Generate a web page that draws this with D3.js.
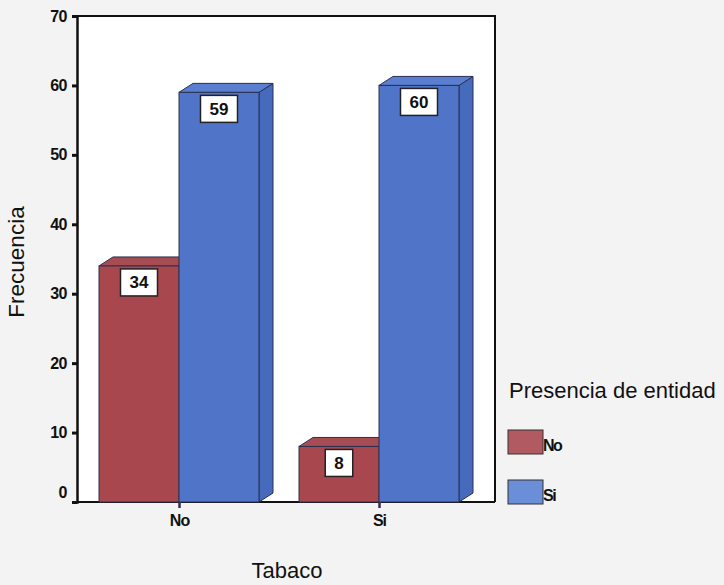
<!DOCTYPE html>
<html>
<head>
<meta charset="utf-8">
<script src="https://cdn.jsdelivr.net/npm/d3@7"></script>
<style>
  html, body { margin: 0; padding: 0; background: #f3f3f3; }
  svg { display: block; font-family: "Liberation Sans", Arial, sans-serif; }
</style>
</head>
<body>
<svg id="chart" width="724" height="585"></svg>
<script>
// Frecuencia por Tabaco y Presencia de entidad
const categories = ["No", "Si"];            // Tabaco
const series = ["No", "Si"];                // Presencia de entidad
const valuesNo = [34, 8];                   // Presencia = No
const valuesSi = [59, 60];                  // Presencia = Si
const yTicks = [0, 10, 20, 30, 40, 50, 60, 70];

const seriesValues = { "No": valuesNo, "Si": valuesSi };
const colors = {
  "No": { front: "#a9474f", top: "#a64d53", side: "#8f3b42", legend: "#b25a62" },
  "Si": { front: "#4f74c8", top: "#5a7fd0", side: "#466bbd", legend: "#6a8fd8" }
};

const svg = d3.select("#chart");
const plot = { left: 77, top: 16, right: 495, bottom: 502 };
const depth = { dx: 14, dy: 9 };

const y = d3.scaleLinear().domain([0, 70]).range([plot.bottom, plot.top]);
const x0 = d3.scaleBand().domain(categories)
  .range([plot.left, plot.right - depth.dx])
  .paddingInner(0.2).paddingOuter(0.11);
const x1 = d3.scaleBand().domain(series).range([0, x0.bandwidth()]);

// plot area
svg.append("rect")
  .attr("x", plot.left).attr("y", plot.top)
  .attr("width", plot.right - plot.left).attr("height", plot.bottom - plot.top)
  .attr("fill", "#ffffff");

// frame (top and right)
svg.append("path")
  .attr("d", `M${plot.left},${plot.top}H${plot.right}V${plot.bottom}`)
  .attr("fill", "none").attr("stroke", "#111").attr("stroke-width", 2);

// bottom axis line
svg.append("line")
  .attr("x1", plot.left).attr("x2", plot.right)
  .attr("y1", plot.bottom).attr("y2", plot.bottom)
  .attr("stroke", "#111").attr("stroke-width", 2);

// bars, one group per Tabaco category; "No" drawn first so the "Si" bar covers its side
const bars = [];
categories.forEach((c, i) => {
  series.forEach(s => {
    bars.push({ cat: c, ser: s, value: seriesValues[s][i] });
  });
});

const edge = "#2c3050";
const g = svg.append("g");
bars.forEach(d => {
  const xa = x0(d.cat) + x1(d.ser);
  const xb = xa + x1.bandwidth();
  const yt = y(d.value);
  const yb = y(0);
  const col = colors[d.ser];
  // side face
  g.append("path")
    .attr("d", `M${xb},${yt}L${xb + depth.dx},${yt - depth.dy}L${xb + depth.dx},${yb - depth.dy}L${xb},${yb}Z`)
    .attr("fill", col.side).attr("stroke", edge).attr("stroke-width", 1);
  // top face
  g.append("path")
    .attr("d", `M${xa},${yt}L${xa + depth.dx},${yt - depth.dy}L${xb + depth.dx},${yt - depth.dy}L${xb},${yt}Z`)
    .attr("fill", col.top).attr("stroke", edge).attr("stroke-width", 1);
  // front face
  g.append("rect")
    .attr("x", xa).attr("y", yt)
    .attr("width", xb - xa).attr("height", yb - yt)
    .attr("fill", col.front).attr("stroke", edge).attr("stroke-width", 1);
});

// value labels in white boxes
bars.forEach(d => {
  const cx = x0(d.cat) + x1(d.ser) + x1.bandwidth() / 2;
  const yt = y(d.value);
  const txt = String(d.value);
  const w = 18 + 9.5 * txt.length;
  const h = 27;
  const by = yt + 3;
  g.append("rect")
    .attr("x", cx - w / 2).attr("y", by)
    .attr("width", w).attr("height", h)
    .attr("fill", "#ffffff").attr("stroke", "#222").attr("stroke-width", 1.5);
  g.append("text")
    .attr("x", cx).attr("y", by + h / 2 + 6)
    .attr("text-anchor", "middle")
    .attr("font-size", 17).attr("font-weight", "bold").attr("fill", "#111")
    .text(txt);
});

// y axis
const yAxis = d3.axisLeft(y).tickValues(yTicks).tickSize(5).tickPadding(5);
const ya = svg.append("g")
  .attr("transform", `translate(${plot.left},0)`)
  .call(yAxis);
ya.select(".domain").attr("stroke", "#111").attr("stroke-width", 2.5);
ya.selectAll(".tick line").attr("stroke", "#111").attr("stroke-width", 3);
ya.selectAll(".tick text")
  .attr("font-size", 16).attr("font-weight", "bold").attr("fill", "#111")
  .attr("letter-spacing", -0.5)
  .attr("font-family", "'Liberation Sans', Arial, sans-serif")
  .attr("dy", d => d === 0 ? "-0.3em" : "0.32em");

// x axis
const xc = d3.scalePoint().domain(categories)
  .range([x0(categories[0]) + x0.bandwidth() / 2, x0(categories[1]) + x0.bandwidth() / 2]);
const xAxis = d3.axisBottom(xc).tickSize(6).tickPadding(7);
const xa = svg.append("g")
  .attr("transform", `translate(0,${plot.bottom})`)
  .call(xAxis);
xa.select(".domain").remove();
xa.selectAll(".tick line").attr("stroke", "#3a2a4a").attr("stroke-width", 2.5);
xa.selectAll(".tick text")
  .attr("font-size", 16).attr("font-weight", "bold").attr("fill", "#111")
  .attr("letter-spacing", -1)
  .attr("font-family", "'Liberation Sans', Arial, sans-serif");

// axis titles
svg.append("text")
  .attr("transform", `translate(24,${(plot.top + plot.bottom) / 2 + 3}) rotate(-90)`)
  .attr("text-anchor", "middle")
  .attr("font-size", 22.5).attr("fill", "#111")
  .text("Frecuencia");

svg.append("text")
  .attr("x", 287).attr("y", 578)
  .attr("text-anchor", "middle")
  .attr("font-size", 22).attr("fill", "#111")
  .text("Tabaco");

// legend
const legend = svg.append("g").attr("transform", "translate(508,0)");
legend.append("text")
  .attr("x", 1).attr("y", 398)
  .attr("font-size", 22).attr("fill", "#111")
  .text("Presencia de entidad");
series.forEach((s, i) => {
  const ly = 430 + i * 50;
  legend.append("rect")
    .attr("x", 0).attr("y", ly).attr("width", 35).attr("height", 24)
    .attr("fill", colors[s].legend).attr("stroke", "#333").attr("stroke-width", 1);
  legend.append("text")
    .attr("x", 35).attr("y", ly + 21)
    .attr("font-size", 16).attr("font-weight", "bold").attr("letter-spacing", -1.5).attr("fill", "#111")
    .text(s);
});
</script>
</body>
</html>
